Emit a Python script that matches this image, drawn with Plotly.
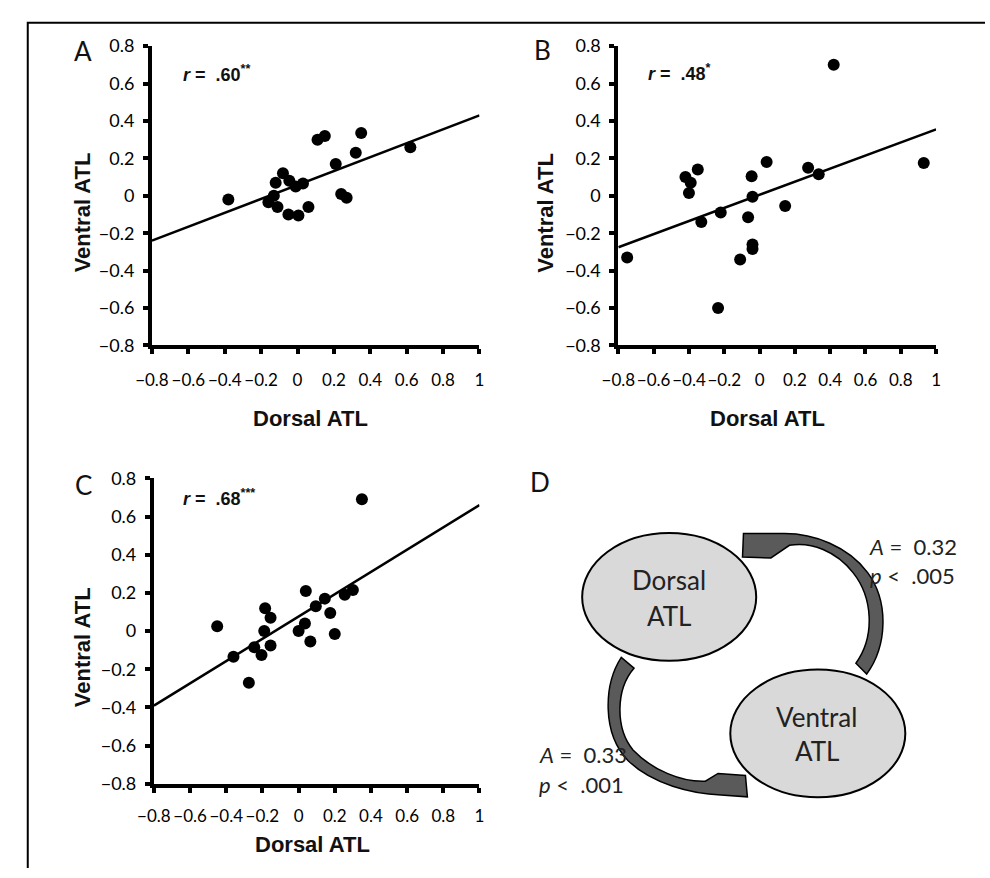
import plotly.graph_objects as go

# ---------------- data ----------------
x_ticks = [-0.8, -0.6, -0.4, -0.2, 0, 0.2, 0.4, 0.6, 0.8, 1.0]
x_ticklabels = ["\u22120.8", "\u22120.6", "\u22120.4", "\u22120.2", "0", "0.2", "0.4", "0.6", "0.8", "1"]
y_ticks = [-0.8, -0.6, -0.4, -0.2, 0, 0.2, 0.4, 0.6, 0.8]
y_ticklabels = ["\u22120.8", "\u22120.6", "\u22120.4", "\u22120.2", "0", "0.2", "0.4", "0.6", "0.8"]

# Panel A
a_x = [-0.38, 0.11, 0.15, 0.35, 0.62, 0.32, 0.21, -0.08, -0.12, -0.045,
       -0.01, 0.03, -0.13, -0.16, -0.11, -0.05, 0.005, 0.06, 0.24, 0.27]
a_y = [-0.02, 0.30, 0.32, 0.335, 0.26, 0.23, 0.17, 0.12, 0.07, 0.08,
       0.05, 0.065, 0.0, -0.035, -0.06, -0.10, -0.105, -0.06, 0.01, -0.01]
# Panel B
b_x = [-0.75, -0.42, -0.39, -0.35, -0.40, -0.33, -0.22, -0.045, -0.04, -0.065,
       -0.04, -0.04, -0.11, 0.04, 0.145, 0.275, 0.335, 0.93, -0.235, 0.42]
b_y = [-0.33, 0.10, 0.07, 0.14, 0.015, -0.14, -0.09, 0.105, -0.005, -0.115,
       -0.26, -0.285, -0.34, 0.18, -0.055, 0.15, 0.115, 0.175, -0.60, 0.70]
# Panel C
c_x = [0.35, -0.45, -0.36, -0.185, -0.155, -0.19, -0.245, -0.205, -0.155, -0.275,
       0.04, 0.095, 0.145, 0.175, 0.035, 0.0, 0.065, 0.20, 0.255, 0.30]
c_y = [0.69, 0.025, -0.135, 0.12, 0.07, 0.0, -0.085, -0.125, -0.075, -0.27,
       0.21, 0.13, 0.17, 0.095, 0.04, 0.0, -0.055, -0.015, 0.19, 0.215]

# regression lines (values at x = -0.8 and x = 1)
trend_x = [-0.8, 1.0]
trend_a = [-0.24, 0.43]
trend_b = [-0.275, 0.355]
trend_c = [-0.39, 0.66]

r_labels = ["<b><i>r</i> =  .60<sup>**</sup></b>",
            "<b><i>r</i> =  .48<sup>*</sup></b>",
            "<b><i>r</i> =  .68<sup>***</sup></b>"]
panel_letters = ["A", "B", "C", "D"]
x_title = "<b>Dorsal ATL</b>"
y_title = "<b>Ventral ATL</b>"
path_labels = [("<i>A</i> =  0.32", "<i>p</i> <  .005"),
               ("<i>A</i> =  0.33", "<i>p</i> <  .001")]

W, H = 990, 878
X_TICK_FONT = dict(family="Lato", size=17, color="black")
Y_TICK_FONT = dict(family="Lato", size=18, color="black")


def px_x(p):
    return p / W


def px_y(p):
    return 1 - p / H


fig = go.Figure()

panels = [
    (a_x, a_y, trend_a, "x", "y"),
    (b_x, b_y, trend_b, "x2", "y2"),
    (c_x, c_y, trend_c, "x3", "y3"),
]
for xs, ys, tr, xa, ya in panels:
    fig.add_trace(go.Scatter(x=trend_x, y=tr, mode="lines",
                             line=dict(color="black", width=2.5),
                             xaxis=xa, yaxis=ya, hoverinfo="skip",
                             showlegend=False, cliponaxis=False))
    fig.add_trace(go.Scatter(x=xs, y=ys, mode="markers",
                             marker=dict(size=12, color="black"),
                             xaxis=xa, yaxis=ya, showlegend=False,
                             cliponaxis=False))

# empty trace on the overlay (pixel) axes used for panel D and the frame
fig.add_trace(go.Scatter(x=[], y=[], xaxis="x4", yaxis="y4",
                         showlegend=False, hoverinfo="skip"))


def xaxis(dom, anchor, standoff):
    return dict(domain=dom, anchor=anchor, range=[-0.8, 1.0],
                tickvals=x_ticks, ticktext=x_ticklabels, tickangle=0,
                ticks="outside", ticklen=5, tickwidth=4, tickcolor="black",
                showline=True, linewidth=4, linecolor="black",
                showgrid=False, zeroline=False, tickfont=X_TICK_FONT,
                ticklabelstandoff=standoff, fixedrange=True)


def yaxis(dom, anchor):
    return dict(domain=dom, anchor=anchor, range=[-0.8, 0.8],
                tickvals=y_ticks, ticktext=y_ticklabels,
                ticks="outside", ticklen=5, tickwidth=4, tickcolor="black",
                showline=True, linewidth=4, linecolor="black",
                showgrid=False, zeroline=False, tickfont=Y_TICK_FONT,
                ticklabelstandoff=5, fixedrange=True)


top_dom = [px_y(342), px_y(35)]
bot_dom = [px_y(791.7), px_y(478.3)]

fig.update_layout(
    width=W, height=H,
    margin=dict(l=0, r=0, t=0, b=0),
    paper_bgcolor="white", plot_bgcolor="rgba(0,0,0,0)",
    showlegend=False,
    xaxis=xaxis([px_x(138), px_x(473)], "y", 11),
    yaxis=yaxis(top_dom, "x"),
    xaxis2=xaxis([px_x(615), px_x(940)], "y2", 11),
    yaxis2=yaxis(top_dom, "x2"),
    xaxis3=xaxis([px_x(140), px_x(473)], "y3", 9),
    yaxis3=yaxis(bot_dom, "x3"),
    xaxis4=dict(domain=[0, 1], range=[0, W], visible=False, anchor="y4",
                fixedrange=True),
    yaxis4=dict(domain=[0, 1], range=[H, 0], visible=False, anchor="x4",
                fixedrange=True),
)

ann = []


def add_text(text, x, y, size, family="Lato", color="#111", xanchor="center",
             angle=0):
    ann.append(dict(text=text, x=x, y=y, xref="x4", yref="y4",
                    showarrow=False, xanchor=xanchor, yanchor="middle",
                    textangle=angle,
                    font=dict(family=family, size=size, color=color)))


# panel letters
for letter, (lx, ly) in zip(panel_letters, [(68, 40), (537, 39), (68, 485), (535, 482)]):
    add_text(letter, lx, ly, 26)

# r annotations
for lab, (rx, ry) in zip(r_labels, [(168, 63), (643, 62), (168, 498)]):
    add_text(lab, rx, ry, 18, family="Liberation Sans", color="#111",
             xanchor="left")

# axis titles
for (tx, ty) in [(300, 417), (768, 417), (302, 854)]:
    add_text(x_title, tx, ty, 22, family="Liberation Sans", color="#111")
for (tx, ty) in [(67, 206), (541, 206), (67, 652)]:
    add_text(y_title, tx, ty, 22, family="Liberation Sans", color="#111",
             angle=-90)

# diagram node text
add_text("Dorsal", 667, 583, 26, color="#222")
add_text("ATL", 667, 620, 26, color="#222")
add_text("Ventral", 818, 723, 26, color="#222")
add_text("ATL", 818, 758, 26, color="#222")

# path coefficients
add_text(path_labels[0][0], 869, 548, 22, color="#222", xanchor="left")
add_text(path_labels[0][1], 870, 578, 22, color="#222", xanchor="left")
add_text(path_labels[1][0], 532, 762, 22, color="#222", xanchor="left")
add_text(path_labels[1][1], 532, 792, 22, color="#222", xanchor="left")

fig.update_layout(annotations=ann)

shapes = []
# outer frame (top and left edges visible)
shapes.append(dict(type="rect", xref="x4", yref="y4", x0=11, y0=11,
                   x1=W + 40, y1=H + 40, line=dict(color="black", width=2),
                   fillcolor="rgba(0,0,0,0)", layer="above"))
# ellipses
shapes.append(dict(type="circle", xref="x4", yref="y4", x0=578, x1=756,
                   y0=534.5, y1=665.5, fillcolor="#d9d9d9",
                   line=dict(color="black", width=2), layer="above"))
shapes.append(dict(type="circle", xref="x4", yref="y4", x0=729.5, x1=908.5,
                   y0=674.5, y1=805.5, fillcolor="#d9d9d9",
                   line=dict(color="black", width=2), layer="above"))
# curved arrows
top_arrow = ("M 858,668 L 869,679 C 890,650 892,605 870,575 "
             "C 850,548 815,535 785,535 L 743,535 L 742,559 L 771,560 "
             "L 790,547 C 812,543 838,553 855,575 C 875,600 878,640 858,668 Z")
bottom_arrow = ("M 618,662 C 600,690 598,740 625,768 C 650,792 690,802 720,803 "
                "L 747,805 L 745,783 L 717,781 L 704,789 "
                "C 680,790 650,778 630,757 C 612,735 612,695 631,673 Z")
for p in (top_arrow, bottom_arrow):
    shapes.append(dict(type="path", xref="x4", yref="y4", path=p,
                       fillcolor="#5a5a5a", line=dict(color="black", width=1.5),
                       layer="above"))

fig.update_layout(shapes=shapes)

fig.write_html(
    "out.html",
    post_script="document.body.style.margin='0';document.body.style.padding='0';",
)
